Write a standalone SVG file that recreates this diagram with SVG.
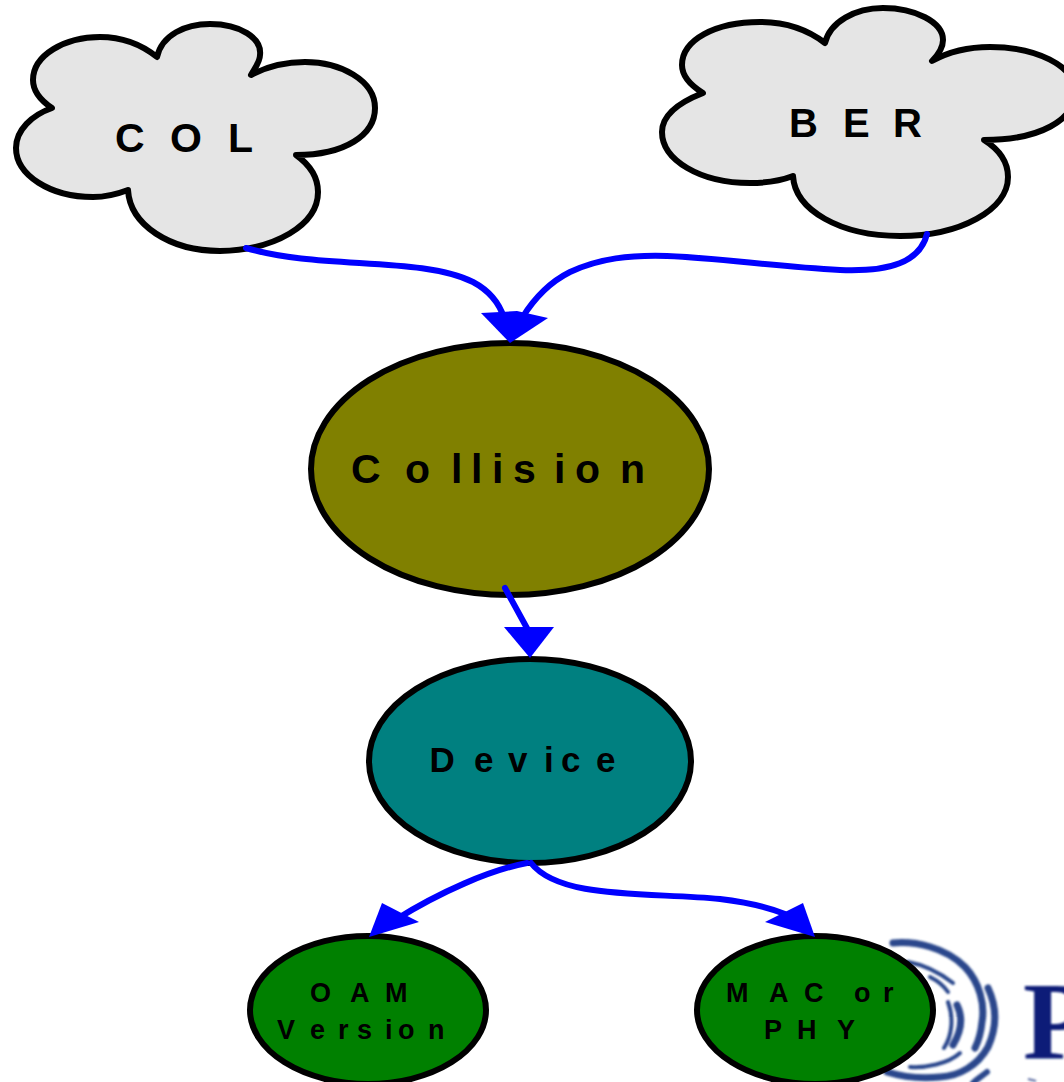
<svg xmlns="http://www.w3.org/2000/svg" width="1064" height="1082" viewBox="0 0 1064 1082">
<style>
.n{stroke:#000;stroke-width:6;stroke-linejoin:round}
.c{fill:#e5e5e5}
.t{font-family:"Liberation Sans",Arial,sans-serif;font-weight:700;fill:#000}
.s{font-size:27px}
.e{fill:none;stroke:#00f;stroke-width:6;stroke-linecap:round}
.h{fill:#00f}
.l{fill:none;stroke:#29468c;stroke-linecap:round}
</style>
<defs><filter id="b" x="-10%" y="-10%" width="120%" height="120%"><feGaussianBlur stdDeviation="0.9"/></filter></defs>
<rect width="1064" height="1082" fill="#fff"/>
<g id="logo" filter="url(#b)">
<path class="l" stroke-width="7" d="M893,943C915,941 945,947 965,967C980,983 985,1005 982,1022C981,1032 979,1040 975,1048"/>
<path class="l" stroke-width="7" d="M988,988C996,1005 998,1025 988,1047C978,1065 960,1076 940,1077C920,1079 900,1076 887,1072"/>
<path class="l" stroke-width="4" d="M908,962C925,965 940,973 953,983"/>
<path class="l" stroke-width="4" d="M930,977C938,981 944,986 948,992"/>
<path class="l" stroke-width="7" d="M957,1005C963,1017 962,1030 953,1045"/>
<path class="l" stroke-width="4" d="M948,1002C954,1018 952,1036 944,1048"/>
<path class="l" stroke-width="4" d="M910,1067C925,1068 948,1064 960,1053"/>
<path class="l" stroke-width="6" d="M987,1072C982,1076 977,1079 973,1083"/>
<text x="1023" y="1058" font-family="'Liberation Serif',serif" font-weight="700" font-size="110" fill="#0c1f78">P</text>
<path stroke="#5a6aa0" stroke-width="2" fill="none" d="M1028,1079L1036,1081"/>
</g>
<g id="col">
<path class="n c" d="M157,57C162,35 185,24 210,24C240,24 262,38 260,55C260,62 255,68 251,75C268,66 285,62 305,62C340,62 375,80 375,108C375,135 345,155 296,155C310,165 318,178 318,192C318,225 275,250 220,251C170,251 130,225 128,190C115,195 105,197 93,197C50,197 16,175 16,148C16,130 32,115 52,108C40,100 33,90 33,80C33,55 65,37 100,37C122,37 142,45 157,57Z"/>
<text class="t" x="115 170 228" y="152" font-size="41">COL</text>
</g>
<g id="ber">
<path class="n c" d="M825,43C830,22 855,8 883,8C915,8 943,22 943,40C943,48 938,55 932,61C950,51 970,47 990,47C1035,47 1075,65 1075,92C1075,120 1040,140 984,140C1000,150 1008,163 1008,177C1008,210 960,236 900,236C840,236 795,210 793,176C780,181 765,183 750,183C700,183 662,160 662,132C662,115 680,102 703,93C690,85 682,75 682,65C682,40 715,22 760,22C785,22 808,30 825,43Z"/>
<text class="t" x="789 843 893" y="137" font-size="40">BER</text>
</g>
<g id="collision">
<ellipse class="n" cx="510" cy="469" rx="199" ry="126" fill="#808000"/>
<text class="t" x="351 405 451 471 492 513 554 575 620" y="483" font-size="41">Collision</text>
</g>
<g id="device">
<ellipse class="n" cx="530" cy="761" rx="161" ry="102" fill="#008080"/>
<text class="t" x="429.500 474 508 544 561 596" y="772" font-size="35">Device</text>
</g>
<g id="oam">
<ellipse class="n" cx="368" cy="1010" rx="118" ry="74" fill="#008000"/>
<text class="t s" x="310 350 385" y="1002">OAM</text>
<text class="t s" x="277 310 338 357 385 398 428" y="1039">Version</text>
</g>
<g id="mac">
<ellipse class="n" cx="815" cy="1010" rx="118" ry="74" fill="#008000"/>
<text class="t s" x="726 769 804 840 854 883" y="1002">MAC or</text>
<text class="t s" x="764 797 837" y="1039">PHY</text>
</g>
<g id="connectors">
<path class="e" d="M246,248C320,270 420,256 473,282C488,290 499,302 504,318"/>
<path class="h" d="M481,313L517,311L548,318L510,343Z"/>
<path class="e" d="M927,234C920,262 890,272 840,270C770,266 720,258 667,256C630,255 600,258 570,272C550,282 535,297 522,318"/>
<path class="e" d="M505,588L528,630"/>
<path class="h" d="M504,627L554,627L530,658Z"/>
<path class="e" d="M527,863C490,870 440,892 395,920"/>
<path class="h" d="M382,903L419,922L369,937Z"/>
<path class="e" d="M531,863C560,900 650,892 720,899C745,902 765,906 785,914"/>
<path class="h" d="M803,903L815,937L765,922Z"/>
</g>
</svg>
